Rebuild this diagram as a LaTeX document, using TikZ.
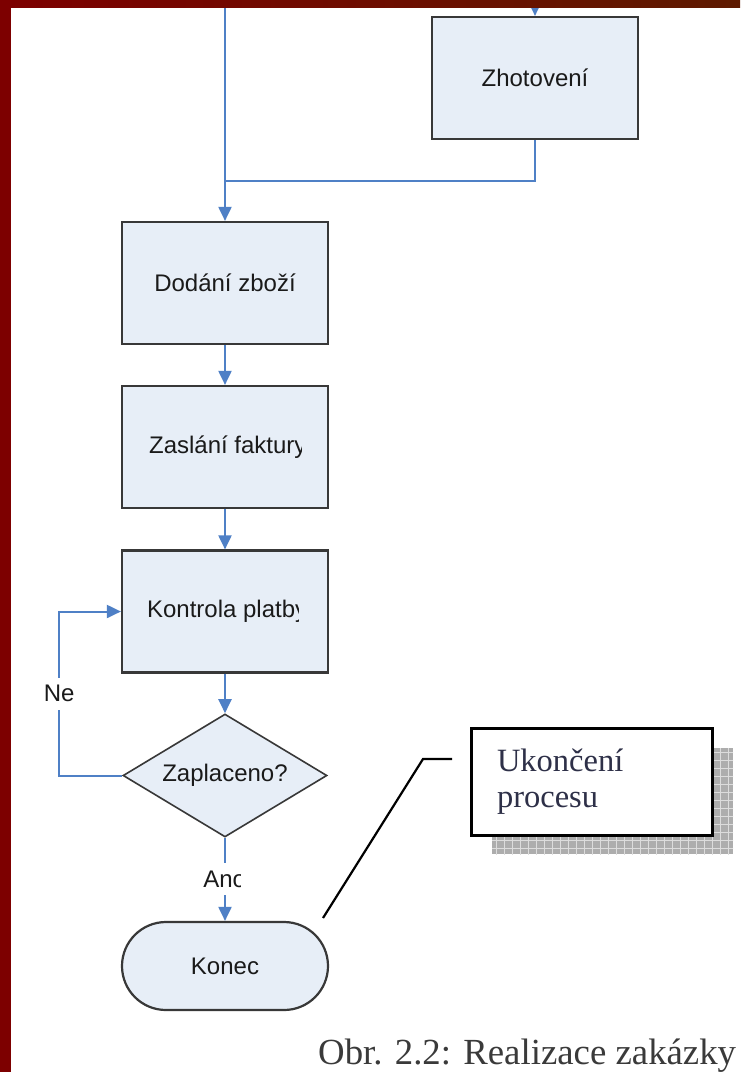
\documentclass[tikz,border=0pt]{standalone}
\usepackage{fontspec}
\setmainfont{Liberation Serif}
\newfontfamily\arialf{Liberation Sans}
\usetikzlibrary{arrows.meta,shapes.geometric,calc}
\definecolor{flowblue}{HTML}{4F80C6}
\definecolor{boxfill}{HTML}{E7EEF7}
\definecolor{boxline}{HTML}{383838}
\definecolor{borderred}{HTML}{7D0000}
\definecolor{topbrown}{HTML}{5E1A00}
\definecolor{txt}{HTML}{1A1A1A}
\definecolor{calltxt}{HTML}{2E3048}
\definecolor{captxt}{HTML}{3A3A3A}
\definecolor{shadowgray}{HTML}{ADADAD}
\definecolor{gridgray}{HTML}{DCDCDC}
\newcommand\myflowfont{\arialf\fontsize{24}{28}\selectfont}
\newcommand\mycallfont{\fontsize{32.5}{36}\selectfont}
\newcommand\mycapfont{\fontsize{36.8}{40}\selectfont}
\tikzset{
  procbox/.style={draw=boxline, line width=2.2pt, fill=boxfill, minimum width=206pt,
    minimum height=122pt, inner sep=0pt, font=\myflowfont, text=txt},
  decbox/.style={diamond, aspect=1.66, draw=boxline, line width=1.6pt, fill=boxfill,
    minimum width=204pt, minimum height=123pt, inner sep=0pt, font=\myflowfont, text=txt},
  termbox/.style={procbox, minimum height=88pt, rounded corners=44pt},
  conn/.style={draw=flowblue, line width=2pt, -{Triangle[width=13pt,length=14pt]}},
  connline/.style={draw=flowblue, line width=2pt},
  lbl/.style={fill=white, font=\myflowfont, text=txt, inner sep=0pt, minimum height=32pt},
  innertxt/.style={anchor=west, draw=none, fill=none, inner sep=0pt, minimum width=0pt,
    minimum height=0pt, font=\myflowfont, text=txt},
  callbox/.style={draw=black, line width=3pt, fill=white, minimum width=241pt,
    minimum height=107pt, inner xsep=26pt, inner ysep=0pt, text width=189pt, align=left,
    font=\mycallfont, text=calltxt},
  callline/.style={draw=black, line width=2.2pt},
  cliptxt/.style n args={3}{path picture={
      \clip (path picture bounding box.north west) rectangle ([xshift=-#2]path picture bounding box.south east);
      \node[innertxt] at ([xshift=#1]path picture bounding box.west) {#3};}}
}
\begin{document}
\begin{tikzpicture}[x=1pt,y=-1pt]
\useasboundingbox (0,0) rectangle (740,1072);
\fill[white] (0,0) rectangle (740,1072);

% nodes
\node[procbox] (zhot) at (535,78) {Zhotovení};
\node[procbox] (dodani) at (225,283) {Dodání zboží};
\node[procbox, cliptxt={26pt}{27pt}{Zaslání faktury}] (zaslani) at (225,447) {};
\node[procbox, cliptxt={24pt}{30pt}{Kontrola platby}] (kontrola) at (225,611.5) {};
\node[decbox] (zapl) at (225,775.5) {Zaplaceno?};
\node[termbox] (konec) at (225,966) {Konec};

% coordinates
\coordinate (ztop) at (535,4);
\coordinate (ltop) at (225,4);
\coordinate (junc) at (225,181);

% connectors
\draw[conn] (ztop) -- (zhot.north);
\draw[conn] (ltop) -- (dodani.north);
\draw[connline] (zhot.south) |- (junc);
\draw[conn] (dodani.south) -- (zaslani.north);
\draw[conn] (zaslani.south) -- (kontrola.north);
\draw[conn] (kontrola.south) -- (zapl.north);
\draw[conn] (zapl.west) -- ++(-63,0) |- node[lbl, pos=0.25] (ne) {Ne} (kontrola.west);
\draw[conn] (zapl.south) -- node[lbl, minimum width=38.5pt, xshift=-3.5pt,
   path picture={\node[innertxt] at (path picture bounding box.west) {Ano};}] (ano) {} (konec.north);

% callout shadow with grid
\fill[shadowgray] (492,748) rectangle (733,854);
\begin{scope}
  \clip (492,748) rectangle (733,854);
  \draw[gridgray, line width=0.9pt, step=8pt] (484,740) grid (740,860);
\end{scope}
\node[callbox] (uk) at (591.5,782) {Ukončení\\procesu};

\coordinate (cstart) at (452,759);
\coordinate (cbend) at (423,759);
\coordinate (cend) at (323,918);
\draw[callline] (cstart) -- (cbend) -- (cend);

% caption
\node[anchor=base west, inner sep=0pt, font=\mycapfont, text=captxt] (cap) at (318,1064) {Obr. 2.2: Realizace zakázky};

% frame strips
\fill[borderred] (0,0) rectangle (11,1072);
\shade[left color=borderred, right color=topbrown] (0,0) rectangle (740,7);
\end{tikzpicture}
\end{document}
